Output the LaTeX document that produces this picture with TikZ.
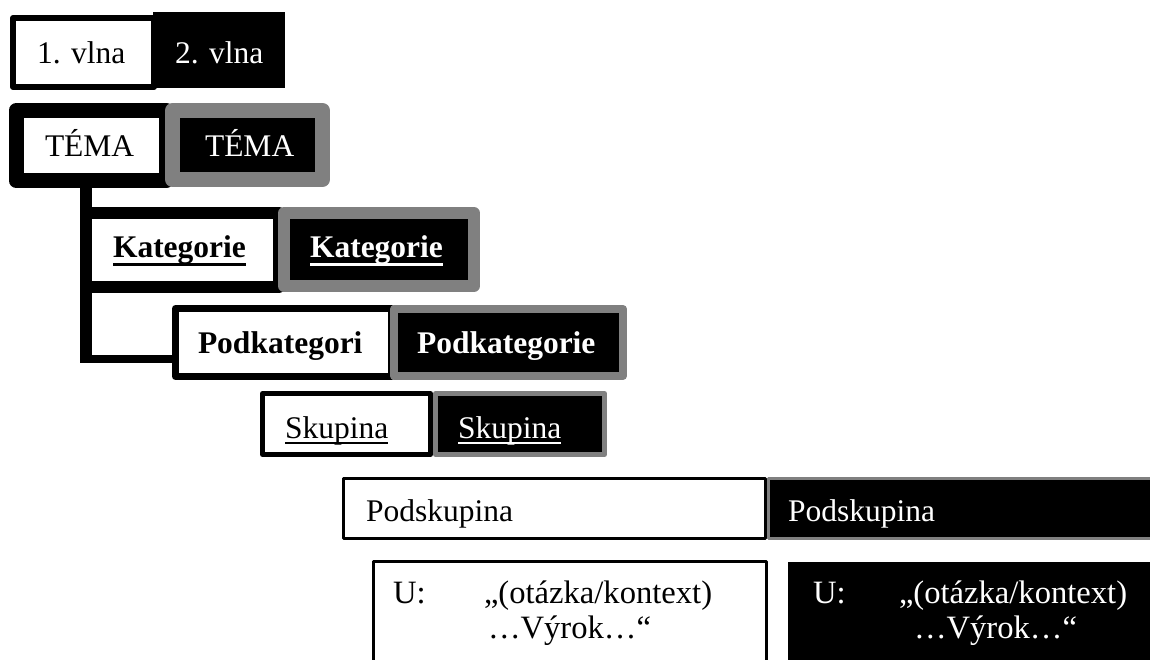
\documentclass[tikz,border=0pt]{standalone}
\usepackage{fontspec}
\setmainfont{Liberation Serif}
\definecolor{boxgray}{RGB}{128,128,128}
\newsavebox{\myulbox}
\newcommand{\ulbold}[1]{\sbox{\myulbox}{#1}\rlap{\rule[-8pt]{\wd\myulbox}{3.5pt}}\usebox{\myulbox}}
\newcommand{\ulreg}[1]{\sbox{\myulbox}{#1}\rlap{\rule[-6pt]{\wd\myulbox}{2.5pt}}\usebox{\myulbox}}
\begin{document}
\begin{tikzpicture}[x=1pt,y=-1pt,
  box/.style={inner sep=0pt, outer sep=0pt, line join=round},
  txt/.style={inner sep=0pt, outer sep=0pt, anchor=base west, font=\fontsize{31.5}{37}\selectfont},
  wtxt/.style={txt, text=white},
  utxt/.style={txt, font=\fontsize{32.6}{38}\selectfont},
  uwtxt/.style={utxt, text=white}]
\useasboundingbox (0,0) rectangle (1150,660);
\clip (0,0) rectangle (1150,660);

% row 1: waves
\node[box, fill=black, minimum width=132pt, minimum height=76pt] (v2) at (219,50) {};
\node[box, draw=black, fill=white, line width=6pt, minimum width=141pt, minimum height=69pt] (v1) at (83.5,52.5) {};
\node[txt] (v1t) at (37,64) {1. vlna};
\node[wtxt] (v2t) at (175,64) {2. vlna};

% row 2: TEMA
\node[box, draw=black, fill=white, line width=15pt, minimum width=150pt, minimum height=70pt] (t1) at (91,145.5) {};
\node[box, draw=boxgray, fill=black, line width=15pt, minimum width=150pt, minimum height=69pt] (t2) at (247.5,145) {};
\node[txt] (t1t) at (45,157) {TÉMA};
\node[wtxt] (t2t) at (205,157) {TÉMA};

% row 3: Kategorie
\node[box, draw=black, fill=white, line width=12pt, minimum width=193pt, minimum height=73.5pt] (k1) at (182.5,249.75) {};
\node[box, draw=boxgray, fill=black, line width=12pt, minimum width=190pt, minimum height=73pt] (k2) at (379,249.5) {};
\node[txt, font=\fontsize{31.5}{37}\selectfont\bfseries] (k1t) at (113,258) {\ulbold{Kategorie}};
\node[wtxt, font=\fontsize{31.5}{37}\selectfont\bfseries] (k2t) at (310,258) {\ulbold{Kategorie}};

% tree connector
\coordinate (treeend) at (86,363);
\coordinate (treeknee) at (80,359);
\draw[line width=12pt] (k1.west |- t1.south) -- (treeend);

% row 4: Podkategorie
\draw[line width=8pt] (treeknee) -- (treeknee -| k1.west) -- (treeknee -| 175.5,0);
\node[box, draw=black, fill=white, line width=7pt, minimum width=215.5pt, minimum height=68pt] (p1) at (283.25,342.5) {};
\node[box, draw=boxgray, fill=black, line width=8pt, minimum width=229pt, minimum height=67pt] (p2) at (508.5,342.5) {};
\node[txt, font=\fontsize{31.5}{37}\selectfont\bfseries] (p1t) at (198,353) {Podkategori};
\node[wtxt, font=\fontsize{31.5}{37}\selectfont\bfseries] (p2t) at (417,353) {Podkategorie};

% row 5: Skupina
\node[box, draw=black, fill=white, line width=5pt, minimum width=168pt, minimum height=61pt] (s1) at (346.5,424) {};
\node[box, draw=boxgray, fill=black, line width=5pt, minimum width=169pt, minimum height=61pt] (s2) at (520,424) {};
\node[txt] (s1t) at (285,438) {\ulreg{Skupina}};
\node[wtxt] (s2t) at (458,438) {\ulreg{Skupina}};

% row 6: Podskupina
\node[box, draw=black, fill=white, line width=3pt, minimum width=422pt, minimum height=60pt] (ps1) at (554.5,508.5) {};
\node[box, draw=boxgray, fill=black, line width=2.5pt, minimum width=391.5pt, minimum height=60pt] (ps2) at (964.25,508.5) {};
\node[txt] (ps1t) at (366,521) {Podskupina};
\node[wtxt] (ps2t) at (788,521) {Podskupina};

% row 7: utterance
\node[box, draw=black, fill=white, line width=3pt, minimum width=393pt, minimum height=138.5pt] (u1) at (570,630.75) {};
\node[box, fill=black, minimum width=372pt, minimum height=138pt] (u2) at (974,631) {};
\node[utxt] (u1a) at (393,603) {U:};
\node[utxt] (u1b) at (484,603) {„(otázka/kontext)};
\node[utxt] (u1c) at (488,638) {…Výrok…“};
\node[uwtxt] (u2a) at (813,603) {U:};
\node[uwtxt] (u2b) at (899,603) {„(otázka/kontext)};
\node[uwtxt] (u2c) at (914,638) {…Výrok…“};
\end{tikzpicture}
\end{document}
